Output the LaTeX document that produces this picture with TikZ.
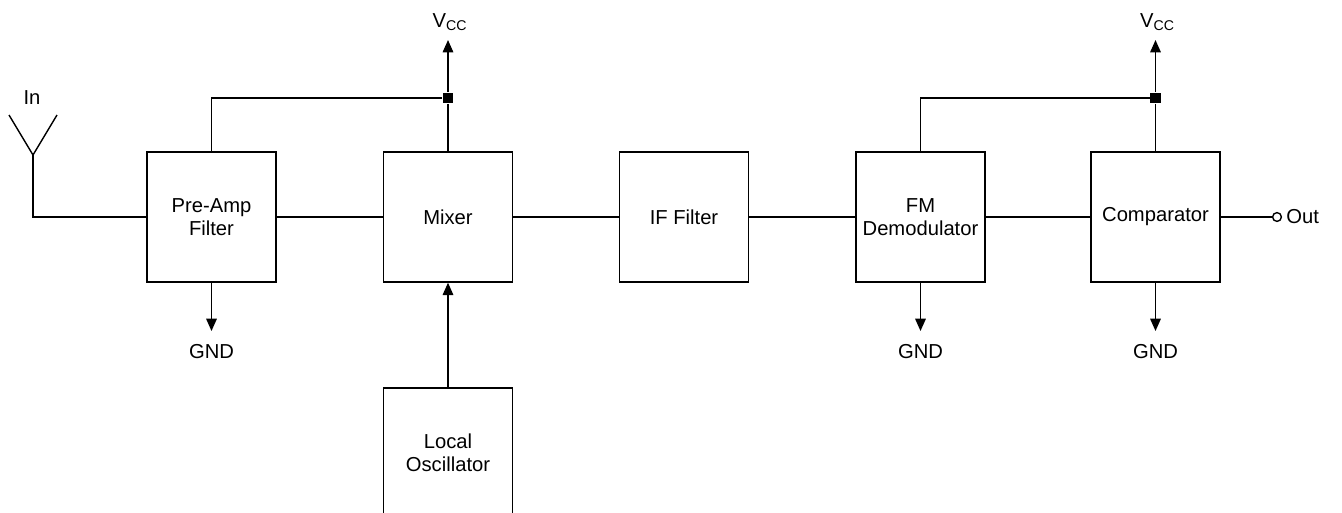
\documentclass[tikz,border=0pt]{standalone}
\usepackage{fontspec}
\setmainfont{Liberation Sans}
\usetikzlibrary{arrows.meta}
\tikzset{block style/.style={draw, minimum width=2.58cm, minimum height=2.6cm, align=center, inner sep=0pt}}
\tikzset{junction/.style={fill=black, rectangle, minimum size=5.8pt, inner sep=0pt}}
\tikzset{tip style/.style={-{Triangle[length=7pt, width=6pt]}}}
\tikzset{port/.style={draw, circle, fill=white, minimum size=5pt, inner sep=0pt}}

\begin{document}
\begin{tikzpicture}[x=0.02cm, y=-0.02cm, line width=0.8pt, font=\fontsize{11.5}{13}\selectfont]
    \useasboundingbox (0,0) rectangle (1342,512);
    % blocks
    \node[block style] (preamp) at (211.5,217) {Pre-Amp\\Filter};
    \node[block style] (mixer) at (448,217) {Mixer};
    \node[block style] (iffilter) at (684,217) {IF Filter};
    \node[block style] (fmdemod) at (920.5,217) {FM\\Demodulator};
    \node[block style] (comp) at (1155.5,217) {Comparator};
    \node[block style] (lo) at (448,453) {Local\\Oscillator};
    % supply
    \node[junction] (jleft) at (448,98) {};
    \node[junction] (jright) at (1155.5,98) {};
    \coordinate (vccleft) at (448,40);
    \coordinate (vccright) at (1155.5,40);
    \path (450,22) node (vccleftlabel) {V\textsubscript{CC}};
    \path (1157.5,22) node (vccrightlabel) {V\textsubscript{CC}};
    % ground
    \coordinate (gndpre) at (211.5,331);
    \coordinate (gndfm) at (920.5,331);
    \coordinate (gndcomp) at (1155.5,331);
    \path (211.5,352) node (gndprelabel) {GND};
    \path (920.5,352) node (gndfmlabel) {GND};
    \path (1155.5,352) node (gndcomplabel) {GND};
    % antenna
    \coordinate (ant) at (33,155);
    \draw (9,115) -- (ant) -- (57,115);
    \path (32,98) node (inlabel) {In};
    % output
    \node[port] (out) at (1277,217) {};
    \node[anchor=west, inner sep=2pt] (outlabel) at (out.east) {Out};
    % connections
    \draw (ant) |- (preamp.west);
    \draw (preamp) -- (mixer);
    \draw (mixer) -- (iffilter);
    \draw (iffilter) -- (fmdemod);
    \draw (fmdemod) -- (comp);
    \draw (comp) -- (out);
    \draw (preamp.north) |- (jleft);
    \draw (jleft) -- (mixer.north);
    \draw[tip style] (jleft) -- (vccleft);
    \draw (fmdemod.north) |- (jright);
    \draw (jright) -- (comp.north);
    \draw[tip style] (jright) -- (vccright);
    \draw[tip style] (preamp.south) -- (gndpre);
    \draw[tip style] (fmdemod.south) -- (gndfm);
    \draw[tip style] (comp.south) -- (gndcomp);
    \draw[tip style] (lo.north) -- (mixer.south);
\end{tikzpicture}
\end{document}
